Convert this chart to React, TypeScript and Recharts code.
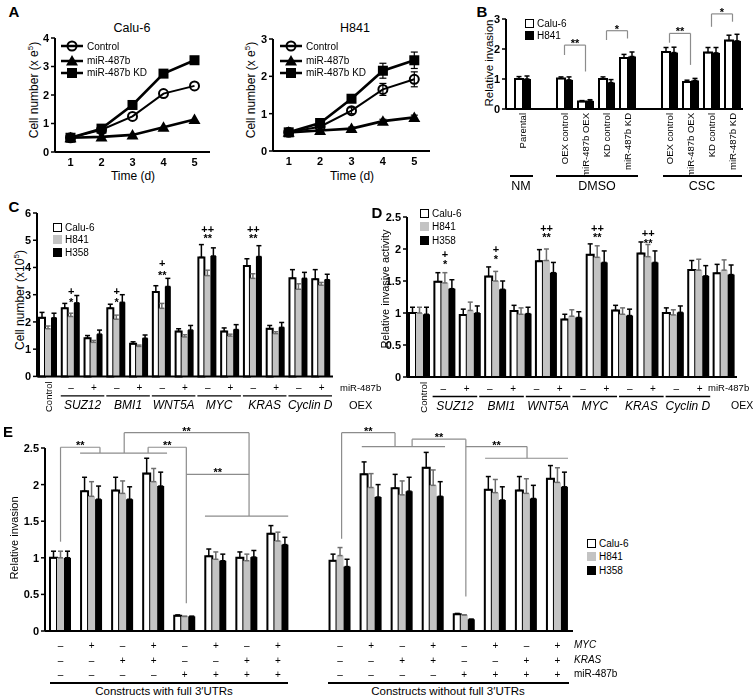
import React from 'react';
import {
  LineChart, Line, BarChart, Bar, XAxis, YAxis, ErrorBar, ReferenceLine, ReferenceDot,
} from 'recharts';

const FONT = '"Liberation Sans", Arial, Helvetica, sans-serif';
const GRAY = '#c3c3c3';
const LINE_GRAY = '#8c8c8c';

// ---------- A: growth curves ----------
const days = [1, 2, 3, 4, 5];
const caluControl = [0.5, 0.78, 1.25, 2.05, 2.32];
const caluMir = [0.5, 0.53, 0.6, 0.87, 1.14];
const caluKD = [0.5, 0.82, 1.65, 2.75, 3.22];
const h841Control = [0.5, 0.65, 1.08, 1.65, 1.92];
const h841ControlErr = [0, 0.04, 0.08, 0.16, 0.2];
const h841Mir = [0.5, 0.55, 0.6, 0.8, 0.9];
const h841MirErr = [0, 0.03, 0.04, 0.05, 0.06];
const h841KD = [0.5, 0.75, 1.4, 2.15, 2.43];
const h841KDErr = [0, 0.04, 0.06, 0.2, 0.22];

// ---------- B: invasion, NM / DMSO / CSC ----------
const bLabels = ['Parental', '', 'OEX control', 'miR-487b OEX', 'KD control', 'miR-487b KD', '', 'OEX control', 'miR-487b OEX', 'KD control', 'miR-487b KD'];
const bCalu = [1.0, null, 1.02, 0.25, 1.0, 1.7, null, 1.9, 0.9, 1.88, 2.28];
const bCaluErr = [0.08, null, 0.05, 0.03, 0.07, 0.12, null, 0.15, 0.06, 0.17, 0.18];
const bH841 = [1.0, null, 0.97, 0.27, 0.88, 1.75, null, 1.88, 0.95, 1.87, 2.27];
const bH841Err = [0.1, null, 0.1, 0.04, 0.1, 0.15, null, 0.18, 0.07, 0.18, 0.22];
// brackets: [slotA, slotB, top, leftEnd, rightEnd, mark]
const bBrackets: [number, number, number, number, number, string][] = [
  [2, 3, 2.13, 1.8, 1.25, '**'],
  [4, 5, 2.61, 2.3, 2.35, '*'],
  [7, 8, 2.52, 2.21, 1.47, '**'],
  [9, 10, 3.17, 2.74, 2.91, '*'],
];

// ---------- C / D: rescue by OEX ----------
const cdMir = ['', '–', '+', '–', '+', '–', '+', '–', '+', '–', '+', '–', '+'];
const cdGenes = ['SUZ12', 'BMI1', 'WNT5A', 'MYC', 'KRAS', 'Cyclin D'];

const cCalu = [2.15, 2.5, 1.4, 2.5, 1.2, 3.1, 1.65, 4.37, 1.65, 4.05, 1.75, 3.6, 3.57];
const cCaluErr = [0.2, 0.18, 0.1, 0.15, 0.07, 0.23, 0.1, 0.47, 0.13, 0.27, 0.12, 0.32, 0.35];
const cH841 = [1.75, 2.2, 1.25, 2.1, 1.1, 2.5, 1.45, 3.7, 1.48, 3.6, 1.57, 3.2, 3.35];
const cH841Err = [0.1, 0.12, 0.07, 0.15, 0.05, 0.18, 0.08, 0.2, 0.07, 0.17, 0.07, 0.2, 0.1];
const cH358 = [2.15, 2.7, 1.55, 2.72, 1.4, 3.3, 1.7, 4.42, 1.72, 4.4, 1.8, 3.6, 3.55];
const cH358Err = [0.17, 0.27, 0.15, 0.28, 0.12, 0.3, 0.17, 0.3, 0.18, 0.4, 0.18, 0.22, 0.2];
const markSlots = [1, 3, 5, 7, 9];
const cMarkTop = ['+', '+', '+', '++', '++'];
const cMarkTopY = [3.12, 3.12, 4.15, 5.4, 5.4];
const cMarkBot = ['*', '*', '**', '**', '**'];
const cMarkBotY = [2.75, 2.75, 3.74, 5.07, 5.07];

const dCalu = [1.0, 1.49, 0.97, 1.57, 1.03, 1.81, 0.9, 1.91, 1.04, 1.93, 1.0, 1.67, 1.62];
const dCaluErr = [0.09, 0.14, 0.09, 0.15, 0.09, 0.18, 0.08, 0.17, 0.08, 0.18, 0.08, 0.15, 0.14];
const dH841 = [1.0, 1.47, 1.04, 1.5, 0.98, 1.82, 0.95, 1.87, 0.98, 1.88, 0.97, 1.67, 1.67];
const dH841Err = [0.09, 0.16, 0.13, 0.15, 0.1, 0.18, 0.1, 0.18, 0.1, 0.19, 0.08, 0.17, 0.16];
const dH358 = [0.98, 1.38, 1.0, 1.37, 0.99, 1.63, 0.93, 1.79, 0.96, 1.79, 1.01, 1.58, 1.6];
const dH358Err = [0.11, 0.14, 0.11, 0.13, 0.1, 0.16, 0.09, 0.18, 0.1, 0.18, 0.1, 0.16, 0.15];
const dMarkTop = ['+', '+', '++', '++', '++'];
const dMarkTopY = [1.92, 2.0, 2.33, 2.33, 2.25];
const dMarkBot = ['*', '*', '**', '**', '**'];
const dMarkBotY = [1.77, 1.85, 2.18, 2.18, 2.1];

// ---------- E: constructs with / without 3'UTRs ----------
const eMyc = ['–', '+', '–', '+', '–', '+', '–', '+', '', '–', '+', '–', '+', '–', '+', '–', '+'];
const eKras = ['–', '–', '+', '+', '–', '–', '+', '+', '', '–', '–', '+', '+', '–', '–', '+', '+'];
const eMir = ['–', '–', '–', '–', '+', '+', '+', '+', '', '–', '–', '–', '–', '+', '+', '+', '+'];
const eCalu = [1.0, 1.91, 1.92, 2.15, 0.21, 1.02, 1.0, 1.33, null, 0.96, 2.14, 1.95, 2.23, 0.23, 1.93, 1.92, 2.08];
const eCaluErr = [0.09, 0.19, 0.18, 0.21, 0.01, 0.1, 0.08, 0.11, null, 0.09, 0.17, 0.19, 0.21, 0.01, 0.18, 0.19, 0.18];
const eH841 = [1.0, 1.84, 1.88, 2.04, 0.2, 0.98, 0.96, 1.23, null, 1.03, 1.96, 1.86, 1.99, 0.22, 1.89, 1.88, 2.03];
const eH841Err = [0.09, 0.2, 0.17, 0.18, 0, 0.1, 0.09, 0.12, null, 0.11, 0.19, 0.19, 0.21, 0, 0.18, 0.2, 0.2];
const eH358 = [1.0, 1.8, 1.8, 1.98, 0.2, 0.96, 1.01, 1.18, null, 0.88, 1.83, 1.91, 1.84, 0.16, 1.79, 1.81, 1.97];
const eH358Err = [0.09, 0.18, 0.17, 0.19, 0, 0.09, 0.09, 0.1, null, 0.1, 0.17, 0.19, 0.2, 0, 0.18, 0.18, 0.2];
// bracket polylines in (slot, value); mark sits on segment [markAt]
const eBrackets: { pts: number[][]; markAt: number; mark: string }[] = [
  { pts: [[0, 1.22], [0, 2.51], [1.27, 2.51], [1.27, 2.43]], markAt: 1, mark: '**' },
  { pts: [[2.05, 2.43], [2.05, 2.71], [6.07, 2.71], [6.07, 1.57]], markAt: 1, mark: '**' },
  { pts: [[2.82, 2.43], [2.82, 2.51], [4.05, 2.51], [4.05, 0.38]], markAt: 1, mark: '**' },
  { pts: [[4.05, 2.14], [6.07, 2.14]], markAt: 0, mark: '**' },
  { pts: [[0.63, 2.43], [3.43, 2.43]], markAt: -1, mark: '' },
  { pts: [[4.65, 1.57], [7.33, 1.57]], markAt: -1, mark: '' },
  { pts: [[9.05, 1.26], [9.05, 2.71], [10.77, 2.71], [10.77, 2.52]], markAt: 1, mark: '**' },
  { pts: [[11.32, 2.52], [11.32, 2.62], [13.05, 2.62], [13.05, 0.47]], markAt: 1, mark: '**' },
  { pts: [[13.05, 2.52], [15.02, 2.52], [15.02, 2.36]], markAt: 0, mark: '**' },
  { pts: [[9.7, 2.52], [12.38, 2.52]], markAt: -1, mark: '' },
  { pts: [[13.67, 2.36], [16.34, 2.36]], markAt: -1, mark: '' },
];

const cellLines = ['Calu-6', 'H841', 'H358'];

// ---------- helpers ----------
type Plot = { x: number; y: number; w: number; h: number };
function place(p: Plot, m: { l: number; r: number; t: number; b: number }) {
  return {
    // own layer -> grayscale text antialiasing, no coloured fringes on thin glyphs
    style: { position: 'absolute' as const, left: p.x - m.l, top: p.y - m.t, willChange: 'transform' },
    width: m.l + p.w + m.r,
    height: m.t + p.h + m.b,
    margin: { left: 0, right: m.r, top: m.t, bottom: 0 },
    yW: m.l,
    xH: m.b,
  };
}

const axisLine = { stroke: '#000', strokeWidth: 2 };
const tickLine = { stroke: '#000', strokeWidth: 1.5 };
const numTick = { fill: '#000', fontSize: 11, fontWeight: 700 };

function T({ x, y, size = 12, bold = false, italic = false, anchor = 'middle', rotate = 0, children }: any) {
  const tx = anchor === 'middle' ? '-50%' : anchor === 'end' ? '-100%' : '0';
  return (
    <div
      style={{
        position: 'absolute', left: x, top: y, fontSize: size, lineHeight: 1, whiteSpace: 'nowrap',
        fontWeight: bold ? 700 : 400, fontStyle: italic ? 'italic' : 'normal', color: '#000',
        transform: rotate ? `translate(-50%,-50%) rotate(${rotate}deg)` : `translate(${tx},-50%)`,
      }}
    >
      {children}
    </div>
  );
}

function HLine({ x1, x2, y, w = 1.5 }: any) {
  return <div style={{ position: 'absolute', left: x1, top: y - w / 2, width: x2 - x1, height: w, background: '#000' }} />;
}

function marker(kind: string, cx: number, cy: number) {
  if (kind === 'circle') return <circle cx={cx} cy={cy} r={4.5} fill="none" stroke="#000" strokeWidth={2} />;
  if (kind === 'tri') return <path d={`M${cx},${cy - 6}L${cx + 6},${cy + 4.5}L${cx - 6},${cy + 4.5}Z`} fill="#000" />;
  return <rect x={cx - 5} y={cy - 5} width={10} height={10} fill="#000" />;
}
const dot = (kind: string) => (p: any) => <g key={`${kind}${p.index}`}>{marker(kind, p.cx, p.cy)}</g>;

const growthSeries = [
  { key: 'kd', name: 'miR-487b KD', kind: 'sq', w: 2.6 },
  { key: 'ctrl', name: 'Control', kind: 'circle', w: 2 },
  { key: 'mir', name: 'miR-487b', kind: 'tri', w: 2.6 },
];
const legendOrder = ['ctrl', 'mir', 'kd'];

function Growth({ plot, yTicks, rows, withErr }: any) {
  const f = place(plot, { l: 40, r: 12, t: 12, b: 30 });
  return (
    <div style={f.style}>
      <LineChart width={f.width} height={f.height} data={rows} margin={f.margin}>
        <XAxis dataKey="day" type="number" domain={[0.5, 5.5]} ticks={days} height={f.xH}
          axisLine={axisLine} tickLine={false} tickSize={4} tickMargin={2} tick={numTick} />
        <YAxis type="number" domain={[0, yTicks[yTicks.length - 1]]} ticks={yTicks} width={f.yW}
          axisLine={axisLine} tickLine={tickLine} tickSize={4} tickMargin={2} tick={numTick} />
        {growthSeries.map((s) => (
          <Line key={s.key} dataKey={s.key} type="linear" stroke="#000" strokeWidth={s.w}
            dot={dot(s.kind)} activeDot={false} isAnimationActive={false}>
            {withErr && <ErrorBar dataKey={`${s.key}E`} width={3.5} stroke="#000" strokeWidth={1.2} />}
          </Line>
        ))}
      </LineChart>
    </div>
  );
}

function GrowthLegend({ x, y }: any) {
  return (
    <>
      {legendOrder.map((k, i) => {
        const s = growthSeries.find((g) => g.key === k)!;
        return (
          <div key={k} style={{ position: 'absolute', left: x, top: y + [0, 14.5, 26.5][i] - 6, height: 12, display: 'flex', alignItems: 'center', fontSize: 10 }}>
            <svg width={22} height={12} style={{ marginRight: 4 }}>
              <line x1={0} x2={22} y1={6} y2={6} stroke="#000" strokeWidth={2.5} />
              {marker(s.kind, 11, 6)}
            </svg>
            {s.name}
          </div>
        );
      })}
    </>
  );
}

function BarLegend({ x, y, gap, n }: any) {
  const fills = ['#fff', GRAY, '#000'];
  return (
    <>
      {cellLines.slice(0, n).map((name, i) => (
        <div key={name} style={{ position: 'absolute', left: x, top: y + i * gap - 6, height: 12, display: 'flex', alignItems: 'center', fontSize: 10 }}>
          <span style={{ display: 'inline-block', width: 9, height: 9, boxSizing: 'border-box', border: i === 0 ? '1.5px solid #000' : 'none', background: n === 2 && i === 1 ? '#000' : fills[i], marginRight: 3 }} />
          {name}
        </div>
      ))}
    </>
  );
}

const errPair = (e: number | null) => (e == null ? null : [0, e]);

function tripleBars(size: number, whisk: number) {
  return [
    <Bar key="calu" dataKey="calu" fill="#fff" stroke="#000" strokeWidth={2} barSize={size} isAnimationActive={false}>
      <ErrorBar dataKey="caluE" width={whisk} stroke="#000" strokeWidth={1.5} />
    </Bar>,
    <Bar key="h841" dataKey="h841" fill={GRAY} barSize={size} isAnimationActive={false}>
      <ErrorBar dataKey="h841E" width={whisk} stroke="#6e6e6e" strokeWidth={1.5} />
    </Bar>,
    <Bar key="h358" dataKey="h358" fill="#000" barSize={size} isAnimationActive={false}>
      <ErrorBar dataKey="h358E" width={whisk} stroke="#000" strokeWidth={1.5} />
    </Bar>,
  ];
}

// text placed above the centre of a reference mark's view box
const textAbove = (text: string, dy: number) => (p: any) => {
  const vb = p.viewBox || {};
  return (
    <text x={(vb.x ?? 0) + (vb.width ?? 0) / 2} y={(vb.y ?? 0) + dy} textAnchor="middle" fontSize={11}
      fontWeight={700} fill="#000" stroke="none">{text}</text>
  );
};

function markDot(key: string, x: number, y: number, text: string) {
  return (
    <ReferenceDot key={key} x={x} y={y} r={1} fill="none" stroke="none" ifOverflow="visible"
      label={textAbove(text, 5)} />
  );
}

function polyline(key: string, pts: number[][], markAt: number, mark: string, xAxisId: any) {
  return pts.slice(1).map((p, j) => (
    <ReferenceLine key={`${key}-${j}`} xAxisId={xAxisId} ifOverflow="visible" stroke={LINE_GRAY} strokeWidth={1.2}
      segment={[{ x: pts[j][0], y: pts[j][1] }, { x: p[0], y: p[1] }]}
      label={j === markAt ? textAbove(mark, 2) : undefined} />
  ));
}

// rows
const caluRows = days.map((d, i) => ({ day: d, ctrl: caluControl[i], mir: caluMir[i], kd: caluKD[i] }));
const h841Rows = days.map((d, i) => ({
  day: d, ctrl: h841Control[i], ctrlE: h841ControlErr[i], mir: h841Mir[i], mirE: h841MirErr[i], kd: h841KD[i], kdE: h841KDErr[i],
}));
const bRows = bLabels.map((_, i) => ({ slot: i, calu: bCalu[i], caluE: errPair(bCaluErr[i]), h841: bH841[i], h841E: errPair(bH841Err[i]) }));
const tripleRows = (a: any[], ae: any[], b: any[], be: any[], c: any[], ce: any[]) =>
  a.map((v, i) => ({ slot: i, calu: v, caluE: errPair(ae[i]), h841: b[i], h841E: errPair(be[i]), h358: c[i], h358E: errPair(ce[i]) }));
const cRows = tripleRows(cCalu, cCaluErr, cH841, cH841Err, cH358, cH358Err);
const dRows = tripleRows(dCalu, dCaluErr, dH841, dH841Err, dH358, dH358Err);
const eRows = tripleRows(eCalu, eCaluErr, eH841, eH841Err, eH358, eH358Err);

// labels under C/D; in D the label row is set a little tighter than the bars
function cdTick(band: number, step: number, first: number, ctrl: number) {
  return (props: any) => {
    const { x, y, payload } = props;
    const i = payload.value as number;
    if (i === 0) {
      const cx0 = x + ctrl;
      return (
        <text x={cx0} y={y + 5} transform={`rotate(-90 ${cx0} ${y + 5})`} textAnchor="end" dominantBaseline="central" fontSize={9.5} fill="#000">Control</text>
      );
    }
    const sx = x + first + (step - band) * (i - 1);
    const gx = sx + step / 2;
    return (
      <g>
        <text x={sx} y={y + 11} textAnchor="middle" dominantBaseline="central" fontSize={10} fill="#000">{cdMir[i]}</text>
        {i % 2 === 1 && (
          <>
            <line x1={gx - step + 1} x2={gx + step - 1} y1={y + 19.5} y2={y + 19.5} stroke="#000" strokeWidth={1.3} />
            <text x={gx} y={y + 28.5} textAnchor="middle" dominantBaseline="central" fontSize={12} fontStyle="italic" fill="#000">{cdGenes[(i - 1) / 2]}</text>
          </>
        )}
      </g>
    );
  };
}

function BTick(props: any) {
  const { x, y, payload } = props;
  const label = bLabels[payload.value as number];
  return (
    <text x={x} y={y + 4} transform={`rotate(-90 ${x} ${y + 4})`} textAnchor="end" dominantBaseline="central" fontSize={9.5} fill="#000">{label}</text>
  );
}

function ETick(props: any) {
  const { x, y, payload } = props;
  const i = payload.value as number;
  return (
    <g fontSize={10} fill="#000" textAnchor="middle">
      <text x={x} y={y + 14} dominantBaseline="central">{eMyc[i]}</text>
      <text x={x} y={y + 29} dominantBaseline="central">{eKras[i]}</text>
      <text x={x} y={y + 43} dominantBaseline="central">{eMir[i]}</text>
    </g>
  );
}

function TripleChart({ plot, rows, yMax, yTicks, size, tick, children }: any) {
  const f = place(plot, { l: 36, r: 12, t: 30, b: 50 });
  return (
    <div style={f.style}>
      <BarChart width={f.width} height={f.height} data={rows} margin={f.margin} barGap={0}>
        <XAxis dataKey="slot" type="category" height={f.xH} interval={0} axisLine={axisLine} tickLine={false}
          tickSize={0} tickMargin={0} tick={tick} />
        <XAxis xAxisId="pos" dataKey="slot" type="number" domain={[-0.5, rows.length - 0.5]} hide allowDataOverflow />
        <YAxis type="number" domain={[0, yMax]} ticks={yTicks} width={f.yW} axisLine={axisLine}
          tickLine={tickLine} tickSize={4} tickMargin={2} tick={numTick} />
        {tripleBars(size, 2.5)}
        {children}
      </BarChart>
    </div>
  );
}

export default function App() {
  const bPlot = { x: 506, y: 19, w: 237, h: 90 };
  const bf = place(bPlot, { l: 40, r: 12, t: 15, b: 80 });
  const cPlot = { x: 37, y: 213.3, w: 296, h: 163.4 };
  const dPlot = { x: 407, y: 216.7, w: 330, h: 160 };
  const ePlot = { x: 45, y: 448, w: 528, h: 183 };
  const cBand = cPlot.w / 13;
  const dBand = dPlot.w / 13;

  return (
    <div style={{ position: 'absolute', left: 0, top: 0, width: 755, height: 699, background: '#fff', fontFamily: FONT, overflow: 'hidden' }}>
      {/* A */}
      <T x={14} y={11} size={15} bold>A</T>
      <T x={132} y={28} size={12.5}>Calu-6</T>
      <T x={355} y={28} size={12.5}>H841</T>
      <T x={33} y={90} size={12} rotate={-90}>Cell number (x e<sup style={{ fontSize: 8 }}>5</sup>)</T>
      <T x={250} y={90} size={12} rotate={-90}>Cell number (x e<sup style={{ fontSize: 8 }}>5</sup>)</T>
      <T x={133} y={176} size={12}>Time (d)</T>
      <T x={352} y={176} size={12}>Time (d)</T>
      <Growth plot={{ x: 55, y: 38, w: 155, h: 114 }} yTicks={[0, 1, 2, 3, 4]} rows={caluRows} withErr={false} />
      <Growth plot={{ x: 273, y: 39, w: 157, h: 112 }} yTicks={[0, 1, 2, 3]} rows={h841Rows} withErr />
      <GrowthLegend x={61} y={46} />
      <GrowthLegend x={280} y={46} />

      {/* B */}
      <T x={482} y={11} size={15} bold>B</T>
      <T x={490} y={63} size={11.5} rotate={-90}>Relative invasion</T>
      <div style={bf.style}>
        <BarChart width={bf.width} height={bf.height} data={bRows} margin={bf.margin} barGap={0}>
          <XAxis dataKey="slot" type="category" height={bf.xH} interval={0} padding={{ left: 6, right: 0 }}
            axisLine={axisLine} tickLine={false} tickSize={0} tickMargin={0} tick={<BTick />} />
          <YAxis type="number" domain={[0, 3]} ticks={[0, 1, 2, 3]} width={bf.yW} axisLine={axisLine}
            tickLine={tickLine} tickSize={4} tickMargin={2} tick={numTick} />
          <Bar dataKey="calu" fill="#fff" stroke="#000" strokeWidth={2} barSize={8} isAnimationActive={false}>
            <ErrorBar dataKey="caluE" width={2.5} stroke="#000" strokeWidth={1.5} />
          </Bar>
          <Bar dataKey="h841" fill="#000" barSize={8} isAnimationActive={false}>
            <ErrorBar dataKey="h841E" width={2.5} stroke="#000" strokeWidth={1.5} />
          </Bar>
          {bBrackets.map(([a, b, top, l, r, mark], k) =>
            polyline(`b${k}`, [[a, l], [a, top], [b, top], [b, r]], 1, mark, 0))}
        </BarChart>
      </div>
      <BarLegend x={525} y={23} gap={12.5} n={2} />
      <HLine x1={510} x2={533} y={176} />
      <HLine x1={556} x2={638} y={176} />
      <HLine x1={663} x2={742} y={176} />
      <T x={521} y={186} size={12.5}>NM</T>
      <T x={597} y={186} size={12.5}>DMSO</T>
      <T x={702} y={186} size={12.5}>CSC</T>

      {/* C */}
      <T x={14} y={206} size={15} bold>C</T>
      <T x={19} y={300} size={12} rotate={-90}>Cell number (x10<sup style={{ fontSize: 8 }}>5</sup>)</T>
      <TripleChart plot={cPlot} rows={cRows} yMax={6} yTicks={[0, 1, 2, 3, 4, 5, 6]} size={6} tick={cdTick(cBand, cBand, 0, 0)}>
        {markSlots.map((s, k) => markDot(`ct${k}`, s, cMarkTopY[k], cMarkTop[k]))}
        {markSlots.map((s, k) => markDot(`cb${k}`, s, cMarkBotY[k], cMarkBot[k]))}
      </TripleChart>
      <BarLegend x={53} y={227} gap={12.5} n={3} />
      <T x={340} y={388} size={9.5} anchor="start">miR-487b</T>
      <T x={349} y={405} size={11} anchor="start">OEX</T>

      {/* D */}
      <T x={377} y={212} size={15} bold>D</T>
      <T x={385} y={289} size={11} rotate={-90}>Relative invasive activity</T>
      <TripleChart plot={dPlot} rows={dRows} yMax={2.5} yTicks={[0, 0.5, 1, 1.5, 2, 2.5]} size={7} tick={cdTick(dBand, 23.3, -1.8, 4)}>
        {markSlots.map((s, k) => markDot(`dt${k}`, s, dMarkTopY[k], dMarkTop[k]))}
        {markSlots.map((s, k) => markDot(`db${k}`, s, dMarkBotY[k], dMarkBot[k]))}
      </TripleChart>
      <BarLegend x={420} y={213} gap={13.5} n={3} />
      <T x={708} y={388} size={9.5} anchor="start">miR-487b</T>
      <T x={731} y={405} size={10.5} anchor="start">OEX</T>

      {/* E */}
      <T x={8} y={431} size={15} bold>E</T>
      <T x={14} y={538} size={11} rotate={-90}>Relative invasion</T>
      <TripleChart plot={ePlot} rows={eRows} yMax={2.5} yTicks={[0, 0.5, 1, 1.5, 2, 2.5]} size={7} tick={<ETick />}>
        {eBrackets.map((br, k) => polyline(`e${k}`, br.pts, br.markAt, br.mark, 'pos'))}
      </TripleChart>
      <BarLegend x={587} y={543} gap={13.5} n={3} />
      <T x={574} y={645} size={10} italic anchor="start">MYC</T>
      <T x={574} y={660} size={10} italic anchor="start">KRAS</T>
      <T x={574} y={674} size={10} anchor="start">miR-487b</T>
      <HLine x1={50} x2={288} y={683} />
      <HLine x1={328} x2={569} y={683} />
      <T x={164} y={692} size={11.5}>Constructs with full 3′UTRs</T>
      <T x={448} y={692} size={11.5}>Constructs without full 3′UTRs</T>
    </div>
  );
}
